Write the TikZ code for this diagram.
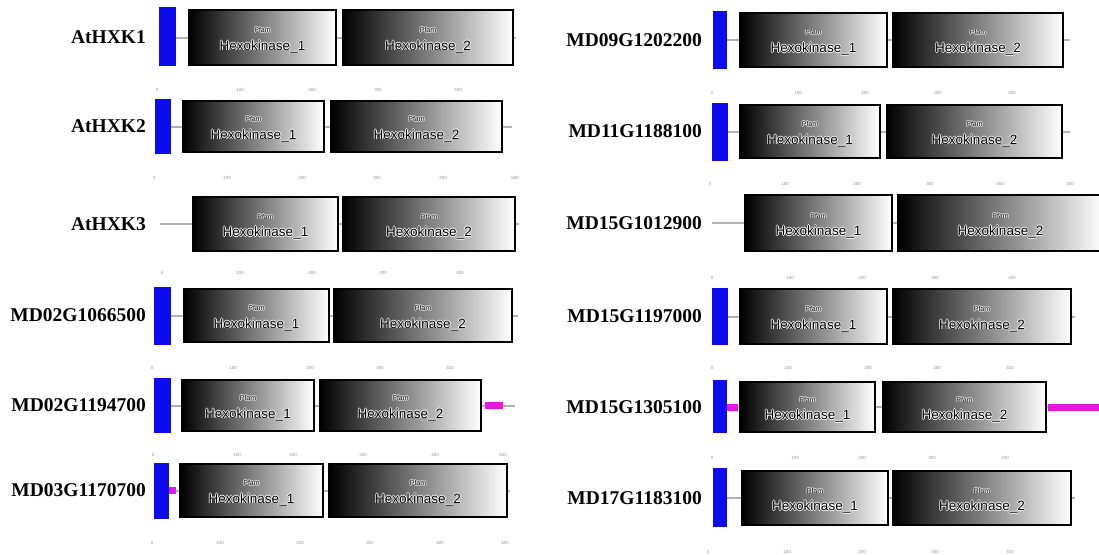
\documentclass[tikz,border=0pt]{standalone}
\usepackage{fontspec}
\setmainfont{Liberation Serif}
\newfontfamily\domfont{Liberation Sans}
\definecolor{hxblue}{RGB}{12,12,238}
\definecolor{hxmag}{RGB}{228,24,220}
\definecolor{bbgray}{RGB}{178,178,178}
\definecolor{tickgray}{RGB}{150,150,150}
\newcommand\halo[1]{\leavevmode\rlap{\textcolor{white}{\raisebox{0.8pt}{#1}}}\rlap{\textcolor{white}{\raisebox{-0.8pt}{#1}}}\rlap{\hspace{0.8pt}\textcolor{white}{#1}}\rlap{\hspace{-0.8pt}\textcolor{white}{#1}}#1}
% generic rectangle node: style, name, x1, x2, y1, y2
\newcommand\bx[6]{\node[#1, minimum width={#4pt-#3pt}, minimum height={#6pt-#5pt}] (#2) at ({(#3+#4)/2},{(#5+#6)/2}) {};}
% domain box: name, x1, x2, y1, y2, number
\newcommand\dom[6]{\bx{dombox}{#1}{#2}{#3}{#4}{#5}
  \node[pfamtxt] (#1p) at ([yshift=7.5pt]#1.center) {\halo{Pfam}};
  \node[hextxt] (#1h) at ([yshift=-9pt]#1.center) {\halo{Hexokinase\_#6}};}
% magenta segment: name, x1, x2, yc
\newcommand\mg[4]{\node[magbox, minimum width={#3pt-#2pt}, minimum height=7pt] (#1) at ({(#2+#3)/2},#4) {};}
% backbone: name, x1, x2, y
\newcommand\bb[4]{\coordinate (#1s) at (#2,#4); \coordinate (#1e) at (#3,#4); \draw[backbone] (#1s) -- (#1e);}
% ticks: name, y, list x/label
\newcommand\ticks[3]{\foreach \x/\t [count=\i] in {#3} {\node[ticklabel] (#1-\i) at (\x,#2) {\t};}}
\begin{document}
\begin{tikzpicture}[x=1pt,y=-1pt,
  dombox/.style={draw=black, line width=1.7pt, left color=black, right color=white, inner sep=0pt},
  pfamtxt/.style={inner sep=0pt, font=\domfont\fontsize{7}{8}\selectfont},
  hextxt/.style={inner sep=0pt, font=\domfont\fontsize{13.5}{15}\selectfont},
  tmbox/.style={fill=hxblue, draw=none, inner sep=0pt},
  magbox/.style={fill=hxmag, draw=none, inner sep=0pt},
  backbone/.style={draw=bbgray, line width=2pt},
  genelabel/.style={anchor=east, inner sep=0pt, font=\fontsize{19.5}{22}\selectfont\bfseries},
  ticklabel/.style={inner sep=0pt, text=tickgray, font=\domfont\fontsize{4.5}{5}\selectfont}]
\useasboundingbox (0,0) rectangle (1099,554);
\fill[white] (0,0) rectangle (1099,554);

% ---------------- left column ----------------
% AtHXK1
\bb{l1}{159}{516}{37.5}
\bx{tmbox}{l1tm}{159}{176}{7}{66}
\dom{l1a}{189}{336}{10}{65}{1}
\dom{l1b}{343}{513}{10}{65}{2}
\node[genelabel] (l1lab) at (146,37.5) {AtHXK1};
\ticks{l1t}{90}{157/0,240/100,312/200,378/300,458/400}

% AtHXK2
\bb{l2}{155}{512}{126.5}
\bx{tmbox}{l2tm}{155}{171}{99}{154}
\dom{l2a}{183}{324}{101}{152}{1}
\dom{l2b}{331}{502}{101}{152}{2}
\node[genelabel] (l2lab) at (146,126.5) {AtHXK2};
\ticks{l2t}{178}{154/0,227/100,302/200,377/300,443/400,515/500}

% AtHXK3
\bb{l3}{160}{519}{224}
\dom{l3a}{193}{338}{197}{251}{1}
\dom{l3b}{343}{515}{197}{251}{2}
\node[genelabel] (l3lab) at (146,224) {AtHXK3};
\ticks{l3t}{273}{162/0,240/100,312/200,383/300,460/400}

% MD02G1066500
\bb{l4}{154}{518}{315.5}
\bx{tmbox}{l4tm}{154}{171}{287}{345}
\dom{l4a}{184}{329}{289}{342}{1}
\dom{l4b}{334}{512}{289}{342}{2}
\node[genelabel] (l4lab) at (146,315.5) {MD02G1066500};
\ticks{l4t}{368}{152/0,233/100,310/200,380/300,450/400}

% MD02G1194700
\bb{l5}{154}{515}{405.5}
\bx{tmbox}{l5tm}{154}{171}{378}{433}
\dom{l5a}{182}{314}{380}{431}{1}
\dom{l5b}{320}{481}{380}{431}{2}
\mg{l5m}{485}{503}{405.5}
\node[genelabel] (l5lab) at (146,405.5) {MD02G1194700};
\ticks{l5t}{455}{153/0,237/100,293/200,363/300,435/400,503/500}

% MD03G1170700
\bb{l6}{154}{510}{490.5}
\bx{tmbox}{l6tm}{154}{169}{463}{519}
\mg{l6m}{169}{176}{490.5}
\dom{l6a}{180}{323}{464}{517}{1}
\dom{l6b}{329}{507}{464}{517}{2}
\node[genelabel] (l6lab) at (146,490.5) {MD03G1170700};
\ticks{l6t}{543}{152/0,220/100,300/200,370/300,440/400,505/500}

% ---------------- right column ----------------
% MD09G1202200
\bb{r1}{713}{1070}{40}
\bx{tmbox}{r1tm}{713}{727}{11}{69}
\dom{r1a}{740}{887}{13}{67}{1}
\dom{r1b}{893}{1063}{13}{67}{2}
\node[genelabel] (r1lab) at (702,40) {MD09G1202200};
\ticks{r1t}{93}{712/0,798/100,865/200,938/300,1012/400}

% MD11G1188100
\bb{r2}{712}{1070}{131.5}
\bx{tmbox}{r2tm}{712}{728}{103}{161}
\dom{r2a}{740}{880}{105}{158}{1}
\dom{r2b}{887}{1062}{105}{158}{2}
\node[genelabel] (r2lab) at (702,131.5) {MD11G1188100};
\ticks{r2t}{184}{710/0,785/100,857/200,930/300,1000/400,1070/500}

% MD15G1012900
\bb{r3}{712}{1099}{223}
\dom{r3a}{745}{892}{195}{251}{1}
\dom{r3b}{898}{1103}{195}{251}{2}
\node[genelabel] (r3lab) at (702,223) {MD15G1012900};
\ticks{r3t}{278}{712/0,790/100,862/200,935/300,1012/400}

% MD15G1197000
\bb{r4}{712}{1075}{316.5}
\bx{tmbox}{r4tm}{712}{728}{288}{345}
\dom{r4a}{740}{887}{289}{344}{1}
\dom{r4b}{893}{1071}{289}{344}{2}
\node[genelabel] (r4lab) at (702,316.5) {MD15G1197000};
\ticks{r4t}{368}{712/0,788/100,868/200,937/300,1010/400}

% MD15G1305100
\bb{r5}{713}{1099}{407}
\bx{tmbox}{r5tm}{713}{727}{380}{433}
\mg{r5m1}{727}{738}{407}
\dom{r5a}{740}{875}{382}{432}{1}
\dom{r5b}{883}{1046}{382}{432}{2}
\mg{r5m2}{1048}{1099}{407}
\node[genelabel] (r5lab) at (702,407) {MD15G1305100};
\ticks{r5t}{458}{712/0,795/100,862/200,932/300,1005/400}

% MD17G1183100
\bb{r6}{713}{1075}{498}
\bx{tmbox}{r6tm}{713}{727}{468}{527}
\dom{r6a}{742}{888}{471}{525}{1}
\dom{r6b}{893}{1071}{471}{525}{2}
\node[genelabel] (r6lab) at (702,498) {MD17G1183100};
\ticks{r6t}{552}{708/0,787/100,862/200,935/300,1010/400}
\end{tikzpicture}
\end{document}
